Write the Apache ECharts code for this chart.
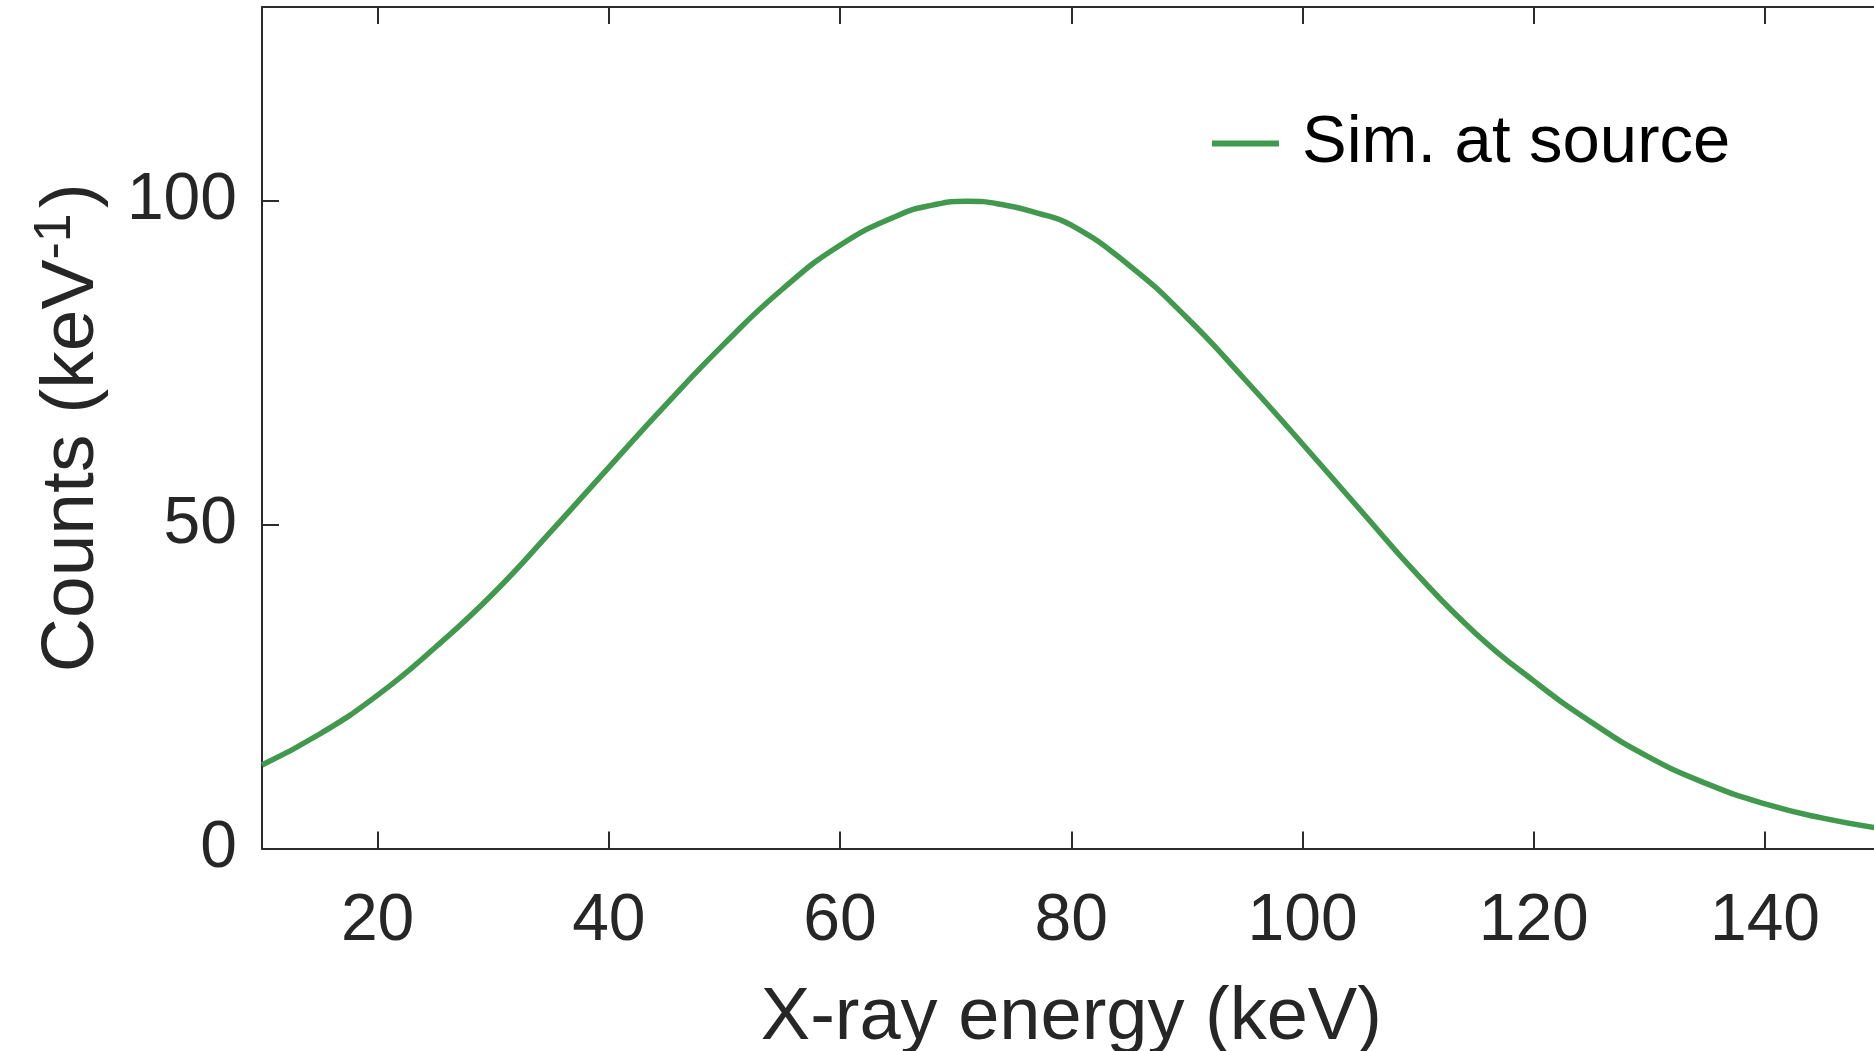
<!DOCTYPE html>
<html>
<head>
<meta charset="utf-8">
<script src="https://cdn.jsdelivr.net/npm/echarts@6/dist/echarts.min.js"></script>
<style>
html,body{margin:0;padding:0;background:#fff;}
#chart{width:1874px;height:1051px;}
</style>
</head>
<body>
<div id="chart"></div>
<script>
// Data
const energies = [10,15,20,25,30,35,40,45,50,55,60,65,68,71,74,77,80,85,90,95,100,105,110,115,120,125,130,135,140,145,150];
const counts   = [12.9,17.7,23.7,31.1,39.4,49.0,58.9,68.7,78.0,86.4,93.2,97.8,99.4,100,99.5,98.2,96.3,90.1,82.0,72.5,62.5,52.3,42.2,33.2,25.9,19.5,14.1,10.0,6.9,4.7,3.1];
const xTicks = [20,40,60,80,100,120,140];
const yTicks = [0,50,100];
const seriesName = 'Sim. at source';
const xTitle = 'X-ray energy (keV)';

const FONT = "'Liberation Sans', Arial, sans-serif";
const AXIS = '#2b2b2b';
const GREEN = '#40994d';

const chart = echarts.init(document.getElementById('chart'), null, {renderer:'canvas'});
const pts = energies.map((e,i)=>[e, counts[i]]);

chart.setOption({
  animation:false,
  backgroundColor:'#fff',
  grid:{left:262, top:7, width:1618.6, bottom:202.4, containLabel:false, outerBoundsMode:'none'},
  legend:{
    show:true,
    left:1207, top:105,
    icon:'rect', itemWidth:67, itemHeight:6, itemGap:10,
    textStyle:{fontFamily:FONT, fontSize:67, color:'#000', padding:[0,0,0,18]},
    data:[seriesName]
  },
  xAxis:[{
    type:'value', min:10, max:150, position:'bottom',
    name:xTitle, nameLocation:'middle', nameGap:133,
    nameTextStyle:{fontFamily:FONT, fontSize:74, color:'#262626'},
    axisLine:{show:true, onZero:false, lineStyle:{color:AXIS, width:2}},
    axisTick:{show:true, inside:true, length:17, customValues:xTicks, lineStyle:{color:AXIS, width:2}},
    axisLabel:{show:true, customValues:xTicks, margin:40, fontFamily:FONT, fontSize:66, color:'#262626'},
    splitLine:{show:false}
  },{
    type:'value', min:10, max:150, position:'top',
    axisLine:{show:true, onZero:false, lineStyle:{color:AXIS, width:2}},
    axisTick:{show:true, inside:true, length:17, customValues:xTicks, lineStyle:{color:AXIS, width:2}},
    axisLabel:{show:false},
    splitLine:{show:false}
  }],
  yAxis:[{
    type:'value', min:0, max:130, position:'left',
    name:'{m|Counts (keV}{s|-1}{m|)}', nameLocation:'middle', nameGap:148, nameRotate:90,
    nameTextStyle:{
      fontFamily:FONT, fontSize:75, color:'#262626',
      rich:{
        m:{fontFamily:FONT, fontSize:75, color:'#262626', lineHeight:84},
        s:{fontFamily:FONT, fontSize:52, color:'#262626', lineHeight:52, verticalAlign:'top', padding:[0,5,0,0]}
      }
    },
    axisLine:{show:true, onZero:false, lineStyle:{color:AXIS, width:2}},
    axisTick:{show:true, inside:true, length:17, customValues:yTicks, lineStyle:{color:AXIS, width:2}},
    axisLabel:{show:true, customValues:yTicks, margin:25, fontFamily:FONT, fontSize:66, color:'#262626'},
    splitLine:{show:false}
  }],
  series:[{
    name:seriesName, type:'line', xAxisIndex:0, yAxisIndex:0,
    data:pts, smooth:0.5, showSymbol:false, symbol:'none',
    lineStyle:{color:GREEN, width:5.5},
    itemStyle:{color:GREEN},
    clip:true
  }]
});
</script>
</body>
</html>
